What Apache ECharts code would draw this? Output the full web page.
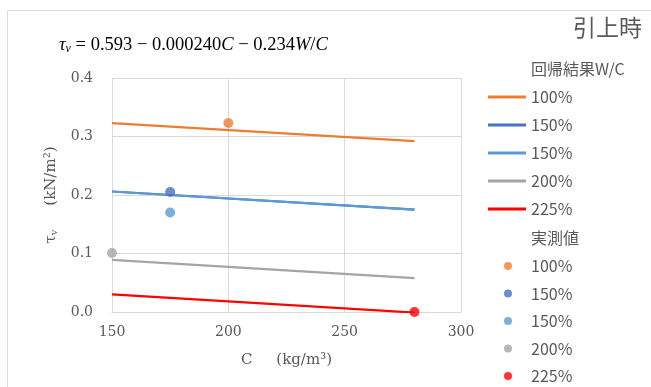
<!DOCTYPE html>
<html lang="ja">
<head>
<meta charset="UTF-8">
<title>引上時</title>
<script src="https://cdn.jsdelivr.net/npm/echarts@6/dist/echarts.min.js"></script>
<style>
    html, body { margin: 0; padding: 0; background: #fff; }
    #container { width: 651px; height: 387px; }
</style>
</head>
<body>
<div id="container"></div>
<script>
    // 回帰結果 (C = 150 ～ 280 の両端値)
    const fitC = [150, 280];
    const fitNames = ['100%', '150%', '150%', '200%', '225%'];
    const fitValues = [
        [0.323, 0.292],
        [0.206, 0.175],
        [0.206, 0.175],
        [0.089, 0.058],
        [0.030, -0.001]
    ];
    // 実測値
    const measNames = ['100%', '150%', '150%', '200%', '225%'];
    const measC = [200, 175, 175, 150, 280];
    const measTau = [0.323, 0.205, 0.170, 0.101, 0.000];

    const colors = ['#ED7D31', '#4472C4', '#5B9BD5', '#A5A5A5', '#FF0000'];
    const xTicks = [150, 300, 50];
    const yTicks = [0, 0.4, 0.1];

    const grey = '#595959';
    const serif = 'DejaVu Serif';
    const mathFont = 'Liberation Serif';
    const jp = 'Noto Sans CJK JP';

    var chart = echarts.init(document.getElementById('container'));

    var series = [];
    var labelMap = {};
    fitValues.forEach(function (v, i) {
        var id = 'fit' + i;
        labelMap[id] = fitNames[i];
        series.push({
            name: id,
            type: 'line',
            symbol: 'none',
            color: colors[i],
            lineStyle: { width: 2.2, color: colors[i] },
            data: [[fitC[0], v[0]], [fitC[1], v[1]]],
            z: 2
        });
    });
    measC.forEach(function (c, i) {
        var id = 'meas' + i;
        labelMap[id] = measNames[i];
        series.push({
            name: id,
            type: 'scatter',
            symbol: 'circle',
            symbolSize: 10,
            color: colors[i],
            itemStyle: { color: colors[i] },
            data: [[c, measTau[i]]],
            z: 3
        });
    });

    var legendBase = {
        orient: 'vertical',
        padding: 0,
        height: 140,
        formatter: function (n) { return labelMap[n]; },
        selectedMode: false
    };

    var option = {
        animation: false,
        title: {
            text: '{t|τ}{s|v}{r| = 0.593 − 0.000240}{t|C}{r| − 0.234}{t|W}{r|/}{t|C}',
            left: 54,
            top: 30,
            textStyle: {
                fontWeight: 'normal',
                rich: {
                    t: { fontFamily: mathFont, fontStyle: 'italic', fontWeight: 'normal', fontSize: 18.5, color: '#000' },
                    s: { fontFamily: mathFont, fontStyle: 'italic', fontWeight: 'normal', fontSize: 12, color: '#000', padding: [8, 0, 0, 0] },
                    r: { fontFamily: mathFont, fontWeight: 'normal', fontSize: 18.5, color: '#000' }
                }
            }
        },
        graphic: [
            {
                type: 'rect',
                shape: { x: 7.5, y: 10.5, width: 700, height: 400 },
                style: { fill: 'none', stroke: '#d9d9d9', lineWidth: 1 },
                silent: true
            },
            {
                type: 'text',
                right: 9,
                top: 16,
                style: { text: '引上時', fill: grey, font: '23px "Noto Sans CJK JP"' }
            },
            {
                type: 'text',
                left: 531,
                top: 61,
                style: { text: '回帰結果W/C', fill: grey, font: '16px "Noto Sans CJK JP"' }
            },
            {
                type: 'text',
                left: 531,
                top: 230,
                style: { text: '実測値', fill: grey, font: '16px "Noto Sans CJK JP"' }
            }
        ],
        legend: [
            Object.assign({}, legendBase, {
                left: 488,
                top: 89,
                itemGap: 12,
                icon: 'rect',
                itemWidth: 38,
                itemHeight: 3,
                textStyle: { color: grey, fontFamily: jp, fontSize: 16, lineHeight: 16 },
                data: ['fit0', 'fit1', 'fit2', 'fit3', 'fit4']
            }),
            Object.assign({}, legendBase, {
                left: 504,
                top: 258,
                itemGap: 11.5,
                icon: 'circle',
                itemWidth: 8,
                itemHeight: 8,
                textStyle: { color: grey, fontFamily: jp, fontSize: 16, lineHeight: 16, padding: [0, 0, 0, 14] },
                data: ['meas0', 'meas1', 'meas2', 'meas3', 'meas4']
            })
        ],
        grid: { left: 112, top: 78, right: 190, bottom: 75 },
        xAxis: {
            type: 'value',
            min: xTicks[0],
            max: xTicks[1],
            interval: xTicks[2],
            name: 'C     (kg/m³)',
            nameLocation: 'middle',
            nameGap: 41,
            nameTextStyle: { color: grey, fontFamily: serif, fontSize: 15 },
            axisLine: { show: true, lineStyle: { color: '#d9d9d9' } },
            axisTick: { show: false },
            axisLabel: { color: grey, fontFamily: serif, fontSize: 14, margin: 13 },
            splitLine: { show: true, lineStyle: { color: '#d9d9d9' } }
        },
        yAxis: {
            type: 'value',
            min: yTicks[0],
            max: yTicks[1],
            interval: yTicks[2],
            name: '{t|τ}{s|v}{r|     (kN/m²)}',
            nameLocation: 'middle',
            nameRotate: 90,
            nameGap: 45,
            nameTextStyle: {
                rich: {
                    t: { fontFamily: serif, fontSize: 15, color: grey },
                    s: { fontFamily: serif, fontSize: 10, color: grey, padding: [7, 0, 0, 0] },
                    r: { fontFamily: serif, fontSize: 15, color: grey }
                }
            },
            axisLine: { show: false },
            axisTick: { show: false },
            axisLabel: {
                color: grey, fontFamily: serif, fontSize: 14, margin: 19,
                formatter: function (v) { return v.toFixed(1); }
            },
            splitLine: { show: true, lineStyle: { color: '#d9d9d9' } }
        },
        series: series
    };

    chart.setOption(option);
</script>
</body>
</html>
